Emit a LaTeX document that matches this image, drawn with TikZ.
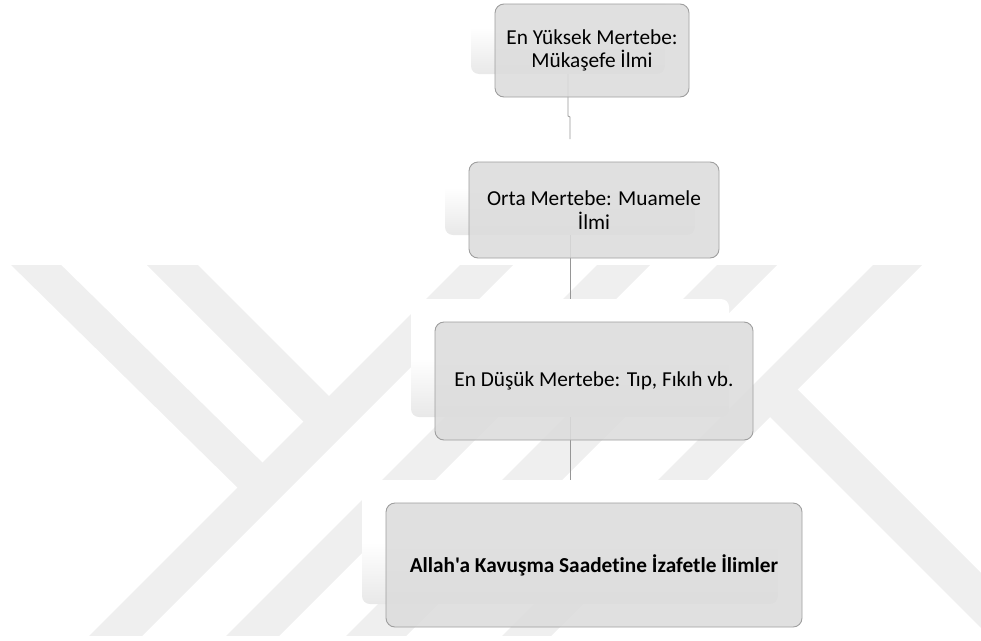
\documentclass[tikz,border=0pt]{standalone}
\usepackage{fontspec}
\setmainfont{Carlito}[Ligatures={TeXOff,CommonOff}]
\definecolor{wm}{RGB}{239,239,239}
\definecolor{boxfill}{RGB}{220,220,220}
\definecolor{boxline}{RGB}{158,158,158}
\definecolor{linkgray}{RGB}{150,150,150}
\begin{document}
\begin{tikzpicture}[x=1pt,y=-1pt,
  boxfront/.style={draw=boxline, line width=0.9pt, fill=boxfill, fill opacity=0.88,
    text opacity=1, rounded corners=9pt, inner sep=0pt, outer sep=0pt, align=center,
    font=\fontsize{21.3}{23.5}\selectfont},
  boxback/.style={rounded corners=8pt, inner sep=0pt, outer sep=0pt,
    top color=white, bottom color=black!9, middle color=white},
  link/.style={draw=linkgray, line width=0.8pt},
  band/.style={fill=wm}
]
\useasboundingbox (0,0) rectangle (981,640);

% faint background emblem made of diagonal bands
\begin{scope}
  \clip (0,265) rectangle (981,635);
  \fill[band] (525,200) -- (578,200) -- (78,700) -- (25,700) -- cycle;
  \fill[band] (662,200) -- (715,200) -- (215,700) -- (162,700) -- cycle;
  \fill[band] (782,200) -- (842,200) -- (342,700) -- (282,700) -- cycle;
  \fill[band] (938,200) -- (987,200) -- (487,700) -- (438,700) -- cycle;
  \fill[band] (-55,200) -- (-5,200) -- (270,470) -- (245,495) -- cycle;
  \fill[band] (82,200) -- (133,200) -- (339,406) -- (313.5,431.5) -- cycle;
  \fill[band] (765,412) -- (792.5,384.5) -- (1108,700) -- (1053,700) -- cycle;
\end{scope}

% soft backing panels
\node[boxback, minimum width=194pt, minimum height=93pt]  (k1) at (568,27.5) {};
\node[boxback, minimum width=250pt, minimum height=96pt]  (k2) at (570,187) {};
\node[boxback, minimum width=318pt, minimum height=118pt] (k3) at (570,358) {};
\node[boxback, minimum width=416pt, minimum height=124pt] (k4) at (570,542) {};

% connectors between the levels
\draw[link] (k1.south) -- ([yshift=-42pt]k1.south) -- ([yshift=22pt]k2.north) -- (k2.north);
\draw[link] (k2.south) -- (k3.north);
\draw[link] (k3.south) -- (k4.north);

% level boxes
\node[boxfront, minimum width=194pt, minimum height=93pt] (m1) at (592,50.5)
  {En Yüksek Mertebe:\\Mükaşefe İlmi};
\node[boxfront, minimum width=250pt, minimum height=96pt] (m2) at (594,210)
  {Orta Mertebe: Muamele\\İlmi};
\node[boxfront, minimum width=318pt, minimum height=118pt] (m3) at (594,381)
  {En Düşük Mertebe: Tıp, Fıkıh vb.};
\node[boxfront, minimum width=416pt, minimum height=124pt, font=\fontsize{21.3}{23.5}\selectfont\bfseries] (m4) at (594,565)
  {Allah'a Kavuşma Saadetine İzafetle İlimler};
\end{tikzpicture}
\end{document}
